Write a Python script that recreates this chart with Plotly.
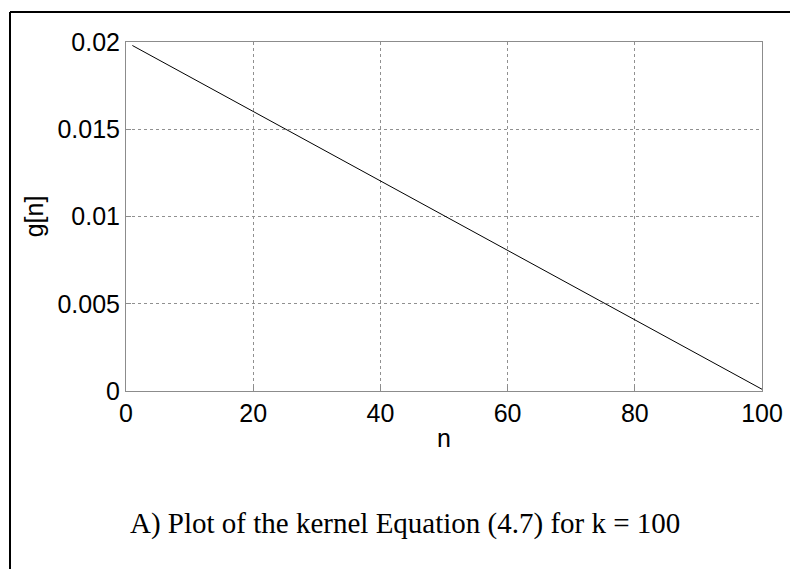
import plotly.graph_objects as go

# Data
n_vals = [1, 100]
g_vals = [0.0198, 0.0001]
x_ticks = [0, 20, 40, 60, 80, 100]
x_tick_labels = ["0", "20", "40", "60", "80", "100"]
y_ticks = [0, 0.005, 0.01, 0.015, 0.02]
y_tick_labels = ["0", "0.005", "0.01", "0.015", "0.02"]
caption = "A) Plot of the kernel Equation (4.7) for k = 100"

W, H = 790, 569
L, R, T, B = 126, 762, 42, 391  # plot area pixel bounds
pw, ph = R - L, B - T


def px(x):
    return (x - L) / pw


def py(y):
    return (B - y) / ph


fig = go.Figure()
fig.add_trace(go.Scatter(x=n_vals, y=g_vals, mode="lines",
                         line=dict(color="black", width=1), showlegend=False))

axis_common = dict(
    showline=True, linecolor="#8c8c8c", linewidth=1, mirror=True,
    ticks="inside", ticklen=5, tickcolor="#8c8c8c",
    showgrid=True, gridcolor="#909090", griddash="dot", gridwidth=1,
    zeroline=False,
    tickfont=dict(family="Liberation Sans, Arial", size=25, color="black"),
)

fig.update_xaxes(range=[0, 100], tickvals=x_ticks, ticktext=x_tick_labels,
                 title=dict(text="n", font=dict(family="Liberation Sans, Arial", size=25, color="black"),
                            standoff=3),
                 **axis_common)
fig.update_yaxes(range=[0, 0.02], tickvals=y_ticks, ticktext=y_tick_labels,
                 title=dict(text="g[n]", font=dict(family="Liberation Sans, Arial", size=25, color="black"),
                            standoff=6),
                 **axis_common)

# outer frame (top and left edges visible)
fig.add_shape(type="line", xref="paper", yref="paper",
              x0=px(10), y0=py(12), x1=px(W + 5), y1=py(12),
              line=dict(color="black", width=2))
fig.add_shape(type="line", xref="paper", yref="paper",
              x0=px(10), y0=py(12), x1=px(10), y1=py(H + 5),
              line=dict(color="black", width=2))

fig.add_annotation(text=caption, xref="paper", yref="paper",
                   x=px(404.5), y=py(523), xanchor="center", yanchor="middle",
                   showarrow=False,
                   font=dict(family="Liberation Serif, Times New Roman", size=29, color="black"))

fig.update_layout(
    width=W, height=H,
    margin=dict(l=L, r=W - R, t=T, b=H - B, autoexpand=False),
    plot_bgcolor="white", paper_bgcolor="white",
)

fig.write_html("out.html")
